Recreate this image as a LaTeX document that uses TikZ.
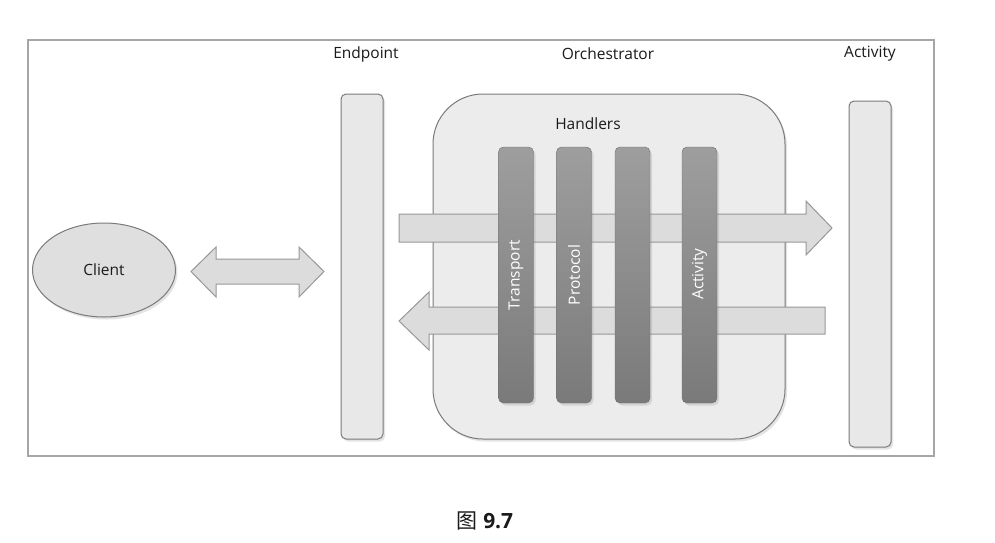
\documentclass[tikz,border=0pt]{standalone}
\usepackage{fontspec}
\setmainfont{Open Sans}
\newfontfamily\cjkfont{Noto Sans CJK SC}
\usetikzlibrary{shadows,shapes.geometric}
\definecolor{framecol}{HTML}{A6A6A6}
\definecolor{barfill}{HTML}{E8E8E8}
\definecolor{barline}{HTML}{7A7A7A}
\definecolor{orchfill}{HTML}{ECECEC}
\definecolor{arrfill}{HTML}{DCDCDC}
\definecolor{arrline}{HTML}{989898}
\definecolor{handtop}{HTML}{9E9E9E}
\definecolor{handbot}{HTML}{7A7A7A}
\definecolor{txtcol}{HTML}{1A1A1A}
\tikzset{
  lbl/.style={font=\fontsize{15.5}{17}\selectfont, text=txtcol, inner sep=0pt},
  softshadow/.style={drop shadow={opacity=0.22, shadow xshift=2pt, shadow yshift=-2.5pt}},
  sidebar/.style={draw=barline, line width=1pt, fill=barfill, rounded corners=5pt,
    minimum width=42pt, inner sep=0pt, softshadow},
  orchbox/.style={draw=barline, line width=1pt, fill=orchfill, rounded corners=50pt,
    minimum width=352pt, minimum height=345pt, inner sep=0pt, softshadow},
  handbar/.style={top color=handtop, bottom color=handbot, draw=handbot!90!black, line width=0.4pt,
    rounded corners=5pt, minimum width=35pt, minimum height=256pt, inner sep=0pt, softshadow},
  blockarrow/.style={draw=arrline, line width=1pt, fill=arrfill, line join=miter},
  handlbl/.style={font=\fontsize{15.5}{17}\selectfont, text=white, rotate=90, inner sep=0pt},
  clientshape/.style={ellipse, draw=barline, line width=1pt, fill=arrfill!90!white,
    minimum width=143pt, minimum height=94pt, inner sep=0pt, softshadow}
}
\begin{document}
\begin{tikzpicture}[x=1pt,y=-1pt]
\useasboundingbox (0,0) rectangle (995,542);
\fill[white] (0,0) rectangle (995,542);
% frame
\draw[framecol, line width=1.2pt] (28,40) rectangle (934,456);
% headings
\node[lbl] (lep) at (366,54) {Endpoint};
\node[lbl] (lor) at (608,54) {Orchestrator};
\node[lbl] (lac) at (870,54) {Activity};
% orchestrator
\node[orchbox] (orch) at (609,266.5) {};
\node[lbl] (lh) at (588,124) {Handlers};
% endpoint and activity bars
\node[sidebar, minimum height=345pt] (ep) at (362,266.5) {};
\node[sidebar, minimum height=346pt] (act) at (870,274) {};
% client
\node[clientshape] (client) at (104,270) {};
\node[lbl] at (client.center) {Client};
% double arrow client <-> endpoint
\draw[blockarrow] (191,271.5) -- (216,247) -- (216,259) -- (299,259) -- (299,247)
  -- (324,271.5) -- (299,297) -- (299,284) -- (216,284) -- (216,297) -- cycle;
% top arrow (to activity)
\draw[blockarrow] (399,214) -- (806,214) -- (806,201) -- (832,228) -- (806,255)
  -- (806,242) -- (399,242) -- cycle;
% bottom arrow (back to endpoint)
\draw[blockarrow] (825,307) -- (429,307) -- (429,292) -- (399,321) -- (429,350)
  -- (429,334) -- (825,334) -- cycle;
% handler bars
\node[handbar] (h1) at (516,275) {};
\node[handbar] (h2) at (574,275) {};
\node[handbar] (h3) at (632.5,275) {};
\node[handbar] (h4) at (699.5,275) {};
\node[handlbl] at (516,275) {Transport};
\node[handlbl] at (574,275) {Protocol};
\node[handlbl] at (699.5,274) {Activity};
% caption
\node[font=\fontsize{21}{24}\selectfont, text=txtcol] (cap) at (485,521)
  {{\cjkfont 图} \textbf{9.7}};
\end{tikzpicture}
\end{document}
